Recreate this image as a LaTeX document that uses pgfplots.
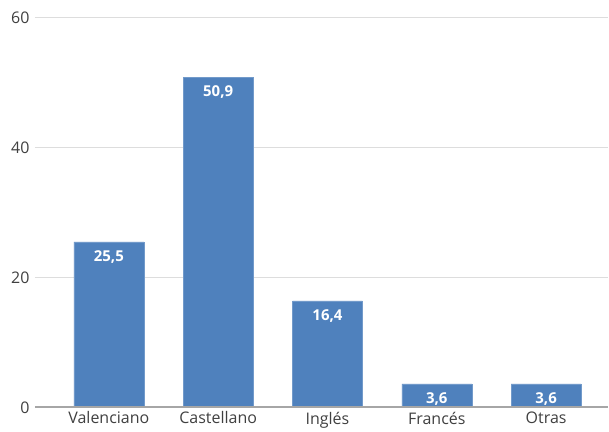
\documentclass[border=0pt]{standalone}
\usepackage{pgfplots}
\pgfplotsset{compat=1.18}
\usepackage{fontspec}
\setmainfont{Open Sans}
\definecolor{barblue}{HTML}{4F81BD}
\definecolor{ticktext}{HTML}{404040}
\definecolor{gridc}{HTML}{DDDDDD}
\definecolor{basec}{HTML}{A6A6A6}
\begin{document}
\begin{tikzpicture}
\begin{axis}[
  at={(0,0)}, anchor=south west,
  scale only axis,
  width=574pt, height=390pt,
  xmin=-0.676, xmax=4.566,
  ymin=0, ymax=60,
  ytick={0,20,40,60},
  xtick={0,1,2,3,4},
  xticklabels={Valenciano,Castellano,Inglés,Francés,Otras},
  axis line style={draw=none},
  major tick length=0pt,
  ymajorgrids,
  grid style={gridc, line width=1pt},
  tick label style={font=\fontsize{16}{19}\selectfont, text=ticktext},
  yticklabel style={xshift=-2pt},
  xticklabel style={yshift=-1pt},
  /pgf/number format/assume math mode=true,
  clip=false,
]
\addplot[ybar, bar width=70pt, fill=barblue, draw=barblue!80!white,
  nodes near coords={\pgfmathprintnumber[use comma, fixed, fixed zerofill, precision=1]{\pgfplotspointmeta}},
  nodes near coords style={anchor=north, yshift=-5pt, text=white, font=\bfseries\fontsize{15}{18}\selectfont},
] coordinates {(0,25.5) (1,50.9) (2,16.4) (3,3.6) (4,3.6)};
\draw[basec, line width=2pt] (axis cs:-0.676,0) -- (axis cs:4.566,0);
\end{axis}
\useasboundingbox (-35pt,-23pt) rectangle (574pt,408pt);
\end{tikzpicture}
\end{document}
